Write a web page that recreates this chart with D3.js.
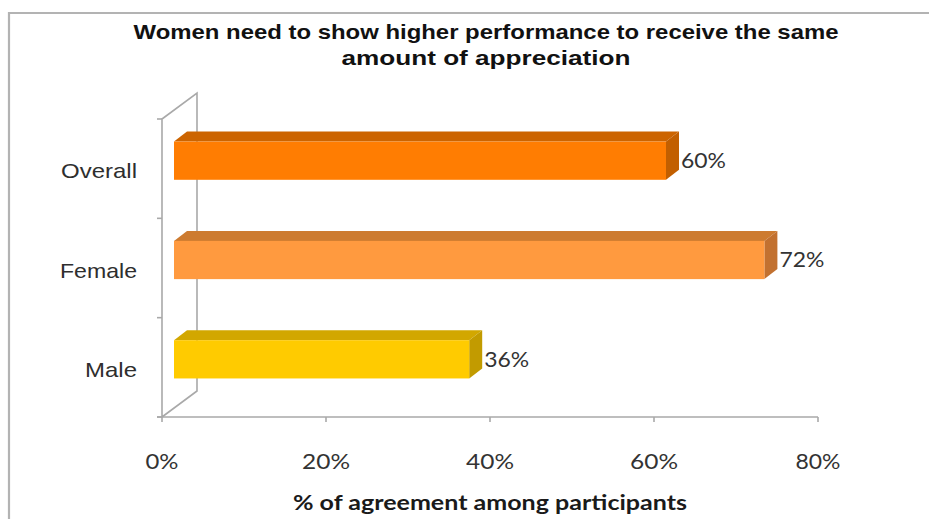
<!DOCTYPE html>
<html>
<head>
<meta charset="utf-8">
<script src="https://cdn.jsdelivr.net/npm/d3@7"></script>
<style>
  html, body { margin: 0; padding: 0; background: #fff; }
  svg { display: block; }
</style>
</head>
<body>
<svg id="chart" width="929" height="519"></svg>
<script>
// ---- data ----
const categories = ["Overall", "Female", "Male"];
const values = [60, 72, 36];
const valueLabels = ["60%", "72%", "36%"];
const tickValues = [0, 20, 40, 60, 80];
const tickLabels = ["0%", "20%", "40%", "60%", "80%"];
const titleLines = ["Women need to show higher performance to receive the same", "amount of appreciation"];
const xTitle = "% of agreement among participants";
const frontColors = ["#FF7D02", "#FF9A3F", "#FFCB00"];
const topColors = ["#CC6400", "#CD7B30", "#D2A700"];
const sideColors = ["#C25F00", "#C27130", "#C29B00"];

// ---- layout ----
const svg = d3.select("#chart");
const X0 = 162, X1 = 818, Y0 = 119, Y1 = 417;
const wallD = [35, -26];   // depth of side wall
const barOff = [12, -8];   // bar front plane offset
const barD = [13, -10];    // bar depth

const x = d3.scaleLinear().domain([0, 80]).range([X0, X1]);
const y = d3.scaleBand().domain(categories).range([Y0, Y1]).padding(0);
const barH = y.bandwidth() * 0.385;

// frame border
svg.append("path")
  .attr("d", `M9,519 L9,13 L929,13`)
  .attr("fill", "none").attr("stroke", "#b3b3b3").attr("stroke-width", 2.2);

function fitTo(sel, width) {
  sel.attr("textLength", width).attr("lengthAdjust", "spacingAndGlyphs");
}

// title
const titleWidths = [705, 289];
titleLines.forEach((t, i) => {
  const tt = svg.append("text")
    .attr("x", 486).attr("y", 39 + i * 25.5)
    .attr("text-anchor", "middle")
    .attr("font-family", "Liberation Sans, Arial, sans-serif")
    .attr("font-weight", "bold").attr("font-size", 20.5)
    .attr("fill", "#111")
    .text(t);
  fitTo(tt, titleWidths[i]);
});

// side wall
const wallColor = "#a9a9a9";
const wall = svg.append("g").attr("fill", "none").attr("stroke", wallColor).attr("stroke-width", 1.6);
wall.append("path").attr("d",
  `M${X0},${Y1} L${X0},${Y0} L${X0 + wallD[0]},${Y0 + wallD[1]} L${X0 + wallD[0]},${Y1 + wallD[1]} L${X0},${Y1}`);
wall.append("line").attr("x1", X0 - 5).attr("x2", X1).attr("y1", Y1).attr("y2", Y1);
wall.selectAll(".xt").data(tickValues).enter().append("line")
  .attr("x1", d => x(d)).attr("x2", d => x(d)).attr("y1", Y1).attr("y2", Y1 + 5);
const catTicks = y.domain().map(c => y(c)).concat([Y1]);
wall.selectAll(".yt").data(catTicks).enter().append("line")
  .attr("x1", X0 - 5).attr("x2", X0).attr("y1", d => d).attr("y2", d => d);

// bars
const bars = svg.append("g");
categories.forEach((c, i) => {
  const xa = x(0) + barOff[0];
  const xb = x(values[i]) + barOff[0];
  const ya = y(c) + y.bandwidth() / 2 - barH / 2 + barOff[1];
  const yb = ya + barH;
  const g = bars.append("g");
  g.append("path").attr("fill", topColors[i])
    .attr("d", `M${xa},${ya} L${xa + barD[0]},${ya + barD[1]} L${xb + barD[0]},${ya + barD[1]} L${xb},${ya} Z`);
  g.append("path").attr("fill", sideColors[i])
    .attr("d", `M${xb},${ya} L${xb + barD[0]},${ya + barD[1]} L${xb + barD[0]},${yb + barD[1]} L${xb},${yb} Z`);
  g.append("rect").attr("fill", frontColors[i])
    .attr("x", xa).attr("y", ya).attr("width", xb - xa).attr("height", barH);
  const lbl = g.append("text")
    .attr("x", xb + barD[0] + 2).attr("y", (ya + yb) / 2 + 2)
    .attr("dominant-baseline", "middle")
    .attr("font-family", "Lato, Open Sans, sans-serif").attr("font-size", 21)
    .attr("fill", "#333")
    .text(valueLabels[i]);
  fitTo(lbl, 45);
});

// category labels
const catWidths = [76, 77, 52];
categories.forEach((c, i) => {
  const t = svg.append("text")
    .attr("x", 137).attr("y", y(c) + y.bandwidth() / 2 + 4)
    .attr("text-anchor", "end").attr("dominant-baseline", "middle")
    .attr("font-family", "Liberation Sans, Arial, sans-serif").attr("font-size", 21)
    .attr("fill", "#2e2e2e")
    .text(c);
  fitTo(t, catWidths[i]);
});

// tick labels
const tickWidths = [33, 48, 48, 48, 45];
tickValues.forEach((v, i) => {
  const t = svg.append("text")
    .attr("x", x(v)).attr("y", 464)
    .attr("text-anchor", "middle").attr("dominant-baseline", "middle")
    .attr("font-family", "Lato, Open Sans, sans-serif").attr("font-size", 21)
    .attr("fill", "#333")
    .text(tickLabels[i]);
  fitTo(t, tickWidths[i]);
});

// axis title
const at = svg.append("text")
  .attr("x", 490).attr("y", 505)
  .attr("text-anchor", "middle").attr("dominant-baseline", "middle")
  .attr("font-family", "Lato, Open Sans, sans-serif").attr("font-weight", "bold").attr("font-size", 20)
  .attr("fill", "#1a1a1a")
  .text(xTitle);
fitTo(at, 394);
</script>
</body>
</html>
